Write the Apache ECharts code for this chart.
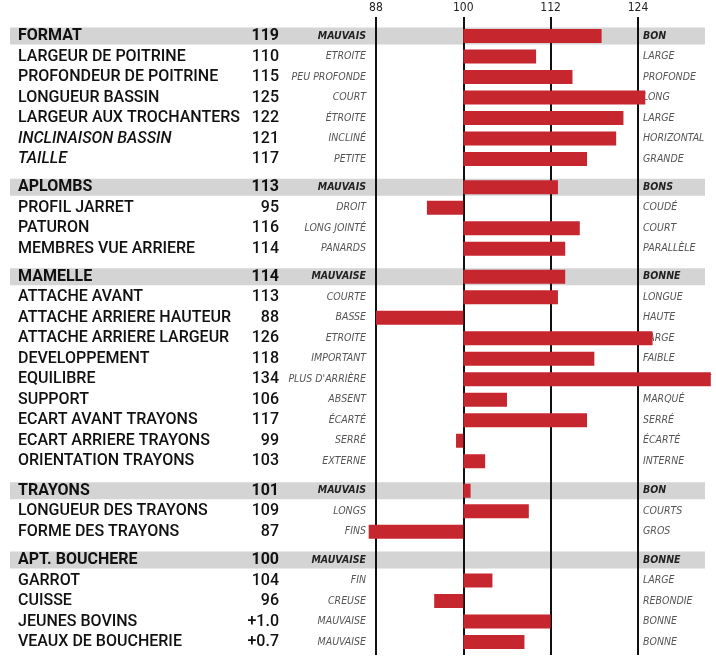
<!DOCTYPE html>
<html><head><meta charset="utf-8">
<script src="https://cdn.jsdelivr.net/npm/echarts@6/dist/echarts.min.js"></script>
<style>html,body{margin:0;padding:0;background:#fff}#c{width:716px;height:659px}</style>
</head><body><div id="c"></div>
<script>
// ---------- DATA ----------
const formatNames = ['FORMAT','LARGEUR DE POITRINE','PROFONDEUR DE POITRINE','LONGUEUR BASSIN','LARGEUR AUX TROCHANTERS','INCLINAISON BASSIN','TAILLE'];
const formatValues = [119,110,115,125,122,121,117];
const formatLabels = ['119','110','115','125','122','121','117'];
const formatLow = ['MAUVAIS','ETROITE','PEU PROFONDE','COURT','ÉTROITE','INCLINÉ','PETITE'];
const formatHigh = ['BON','LARGE','PROFONDE','LONG','LARGE','HORIZONTAL','GRANDE'];

const aplombsNames = ['APLOMBS','PROFIL JARRET','PATURON','MEMBRES VUE ARRIERE'];
const aplombsValues = [113,95,116,114];
const aplombsLabels = ['113','95','116','114'];
const aplombsLow = ['MAUVAIS','DROIT','LONG JOINTÉ','PANARDS'];
const aplombsHigh = ['BONS','COUDÉ','COURT','PARALLÈLE'];

const mamelleNames = ['MAMELLE','ATTACHE AVANT','ATTACHE ARRIERE HAUTEUR','ATTACHE ARRIERE LARGEUR','DEVELOPPEMENT','EQUILIBRE','SUPPORT','ECART AVANT TRAYONS','ECART ARRIERE TRAYONS','ORIENTATION TRAYONS'];
const mamelleValues = [114,113,88,126,118,134,106,117,99,103];
const mamelleLabels = ['114','113','88','126','118','134','106','117','99','103'];
const mamelleLow = ['MAUVAISE','COURTE','BASSE','ETROITE','IMPORTANT',"PLUS D'ARRIÈRE",'ABSENT','ÉCARTÉ','SERRÉ','EXTERNE'];
const mamelleHigh = ['BONNE','LONGUE','HAUTE','LARGE','FAIBLE',"PLUS D'AVANT",'MARQUÉ','SERRÉ','ÉCARTÉ','INTERNE'];

const trayonsNames = ['TRAYONS','LONGUEUR DES TRAYONS','FORME DES TRAYONS'];
const trayonsValues = [101,109,87];
const trayonsLabels = ['101','109','87'];
const trayonsLow = ['MAUVAIS','LONGS','FINS'];
const trayonsHigh = ['BON','COURTS','GROS'];

const aptNames = ['APT. BOUCHERE','GARROT','CUISSE','JEUNES BOVINS','VEAUX DE BOUCHERIE'];
const aptValues = [100,104,96,112,108.4];
const aptLabels = ['100','104','96','+1.0','+0.7'];
const aptLow = ['MAUVAISE','FIN','CREUSE','MAUVAISE','MAUVAISE'];
const aptHigh = ['BONNE','LARGE','REBONDIE','BONNE','BONNE'];

const italicNames = ['INCLINAISON BASSIN','TAILLE'];
const axisTicks = [88,100,112,124];
const baseline = 100;

// ---------- LAYOUT ----------
const groups = [
  {names:formatNames, values:formatValues, labels:formatLabels, low:formatLow, high:formatHigh, top:25.75},
  {names:aplombsNames, values:aplombsValues, labels:aplombsLabels, low:aplombsLow, high:aplombsHigh, top:177},
  {names:mamelleNames, values:mamelleValues, labels:mamelleLabels, low:mamelleLow, high:mamelleHigh, top:266.5},
  {names:trayonsNames, values:trayonsValues, labels:trayonsLabels, low:trayonsLow, high:trayonsHigh, top:480.5},
  {names:aptNames, values:aptValues, labels:aptLabels, low:aptLow, high:aptHigh, top:549.75}
];
const ROW = 20.5;
const X_MIN = 86, X_MAX = 134;
const GRID_LEFT = 361.4, GRID_RIGHT_EDGE = 710.8;
const PX = (GRID_RIGHT_EDGE - GRID_LEFT) / (X_MAX - X_MIN);
const BAND_LEFT = 10, BAND_RIGHT = 705;
const NAME_FONT = "Roboto, 'Noto Sans', sans-serif";
const SMALL_FONT = "'Liberation Sans Narrow', 'DejaVu Sans Condensed', Roboto, sans-serif";

const rich = {
  hn:{fontFamily:NAME_FONT, fontSize:16, fontWeight:'bold', color:'#111', width:225, align:'left'},
  n:{fontFamily:NAME_FONT, fontSize:16, fontWeight:500, color:'#111', width:225, align:'left'},
  ni:{fontFamily:NAME_FONT, fontSize:16, fontWeight:500, fontStyle:'italic', color:'#111', width:225, align:'left'},
  hv:{fontFamily:NAME_FONT, fontSize:16, fontWeight:'bold', color:'#111', width:36, align:'right'},
  v:{fontFamily:NAME_FONT, fontSize:16, fontWeight:500, color:'#111', width:36, align:'right'},
  hl:{fontFamily:SMALL_FONT, fontSize:10.5, fontWeight:'bold', fontStyle:'italic', color:'#222', width:87, align:'right'},
  l:{fontFamily:SMALL_FONT, fontSize:10.5, fontStyle:'italic', color:'#555', width:87, align:'right'},
  hr:{fontFamily:SMALL_FONT, fontSize:10.5, fontWeight:'bold', fontStyle:'italic', color:'#222'},
  r:{fontFamily:SMALL_FONT, fontSize:10.5, fontStyle:'italic', color:'#555'}
};

const grid = [], xAxis = [], yAxis = [], series = [];
groups.forEach((g, gi) => {
  grid.push({left:GRID_LEFT, right:716 - GRID_RIGHT_EDGE, top:g.top, height:g.names.length * ROW});
  xAxis.push({type:'value', gridIndex:gi, min:X_MIN, max:X_MAX, show:false});
  yAxis.push({
    type:'category', gridIndex:gi, inverse:true, data:g.names, position:'left', z:2,
    axisLine:{show:false}, axisTick:{show:false}, splitLine:{show:false},
    axisLabel:{margin:-4.6, interval:0, rich:rich,
      formatter:(val, i) => {
        if (i === 0) return '{hn|' + val + '}{hv|' + g.labels[i] + '}{hl|' + g.low[i] + '}';
        const nk = italicNames.indexOf(val) >= 0 ? 'ni' : 'n';
        return '{' + nk + '|' + val + '}{v|' + g.labels[i] + '}{l|' + g.low[i] + '}';
      }}
  });
  yAxis.push({
    type:'category', gridIndex:gi, inverse:true, data:g.names, position:'right', z:2,
    axisLine:{show:false}, axisTick:{show:false}, splitLine:{show:false},
    axisLabel:{margin:-(GRID_RIGHT_EDGE - 643), interval:0, rich:rich,
      formatter:(val, i) => i === 0 ? '{hr|' + g.high[i] + '}' : '{r|' + g.high[i] + '}'}
  });
  const yi = gi * 2;
  series.push({
    type:'custom', xAxisIndex:gi, yAxisIndex:yi, z:1, silent:true,
    data:[[0, baseline]], encode:{x:1, y:0},
    renderItem:(params, api) => {
      const y = api.coord([baseline, api.value(0)])[1];
      return {type:'rect', shape:{x:BAND_LEFT, y:y - 8.5, width:BAND_RIGHT - BAND_LEFT, height:17},
        style:{fill:'#d4d4d4'}};
    }
  });
  series.push({
    type:'custom', xAxisIndex:gi, yAxisIndex:yi, z:5,
    data:g.values.map((v, i) => [i, v]), encode:{x:1, y:0},
    renderItem:(params, api) => {
      const idx = api.value(0), v = api.value(1);
      const a = api.coord([baseline, idx]), b = api.coord([v, idx]);
      const h = 14;
      return {type:'rect', shape:{x:Math.min(a[0], b[0]), y:a[1] - h / 2, width:Math.abs(b[0] - a[0]), height:h},
        style:{fill:'#c6262e'}};
    }
  });
});

// overlay grid with reference lines
const og = groups.length;
grid.push({left:GRID_LEFT + (axisTicks[0] - X_MIN) * PX, width:(axisTicks[3] - axisTicks[0]) * PX, top:17, bottom:4});
xAxis.push({type:'value', gridIndex:og, position:'top', min:axisTicks[0], max:axisTicks[3], interval:axisTicks[1] - axisTicks[0], z:3,
  axisLine:{show:false}, axisTick:{show:false},
  axisLabel:{margin:3, fontSize:12, color:'#222', fontFamily:SMALL_FONT},
  splitLine:{show:true, lineStyle:{color:'#111', width:2}}});
yAxis.push({type:'value', gridIndex:og, show:false, min:0, max:1});

const chart = echarts.init(document.getElementById('c'), null, {renderer:'canvas'});
chart.setOption({animation:false, backgroundColor:'#fff', grid, xAxis, yAxis, series});
</script></body></html>
